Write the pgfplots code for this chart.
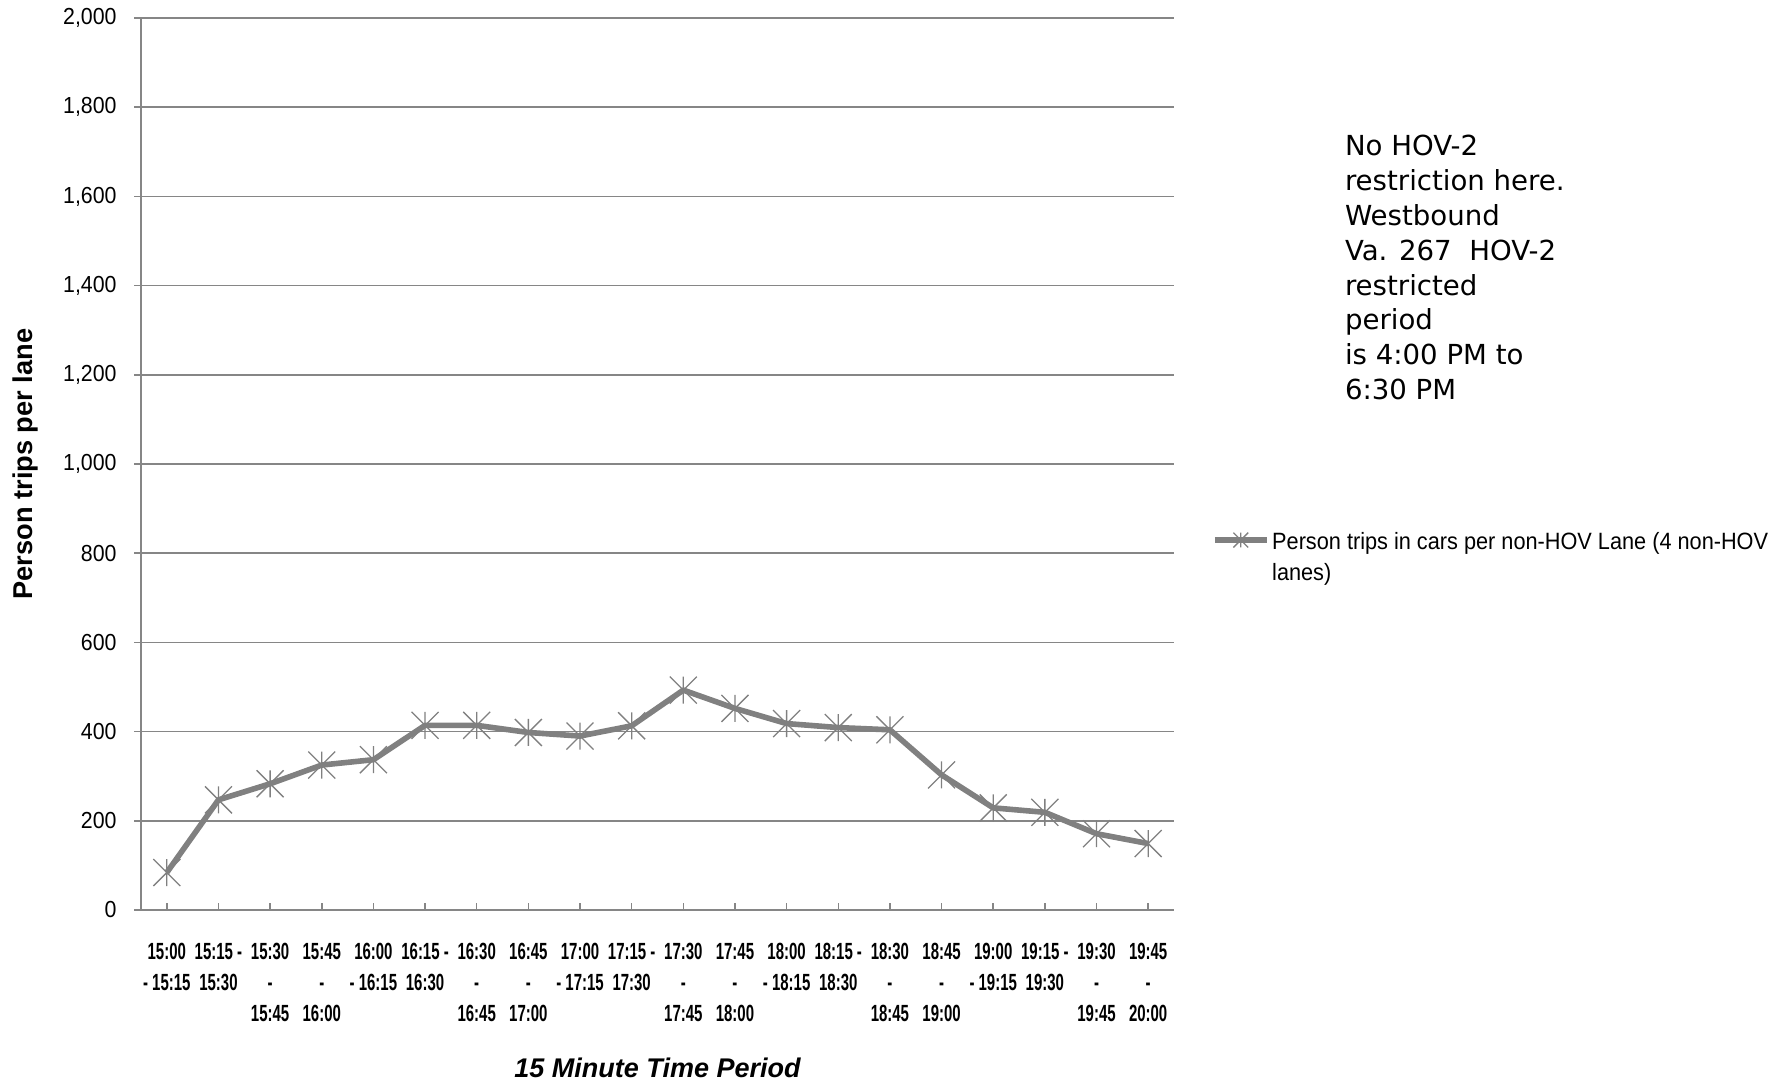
\documentclass[border=0pt]{standalone}
\usepackage{pgfplots}
\pgfplotsset{compat=1.18}
\usepackage{fontspec}
\setmainfont{Liberation Sans}
\newfontfamily\condfont[FakeStretch=0.64]{Liberation Sans Bold}
\newfontfamily\lblfont[FakeStretch=0.92]{Liberation Sans}
\newfontfamily\annfont{DejaVu Sans}
\definecolor{gridgray}{RGB}{134,134,134}
\definecolor{seriesgray}{RGB}{128,128,128}
\pgfdeclareplotmark{xast}{%
  \pgfpathmoveto{\pgfqpoint{0pt}{\pgfplotmarksize}}%
  \pgfpathlineto{\pgfqpoint{0pt}{-\pgfplotmarksize}}%
  \pgfpathmoveto{\pgfqpoint{-\pgfplotmarksize}{-\pgfplotmarksize}}%
  \pgfpathlineto{\pgfqpoint{\pgfplotmarksize}{\pgfplotmarksize}}%
  \pgfpathmoveto{\pgfqpoint{-\pgfplotmarksize}{\pgfplotmarksize}}%
  \pgfpathlineto{\pgfqpoint{\pgfplotmarksize}{-\pgfplotmarksize}}%
  \pgfusepathqstroke}
\begin{document}
\begin{tikzpicture}
\useasboundingbox (-70.5pt,-85.5pt) rectangle (822pt,455pt);
\begin{axis}[
  at={(0pt,0pt)}, anchor=south west, scale only axis,
  width=516.5pt, height=446pt,
  xmin=-0.5, xmax=19.5, ymin=0, ymax=2000,
  clip=false,
  xtick={0,...,19},
  xticklabels={{15:00\\- 15:15},{15:15 -\\15:30},{15:30\\-\\15:45},{15:45\\-\\16:00},{16:00\\- 16:15},{16:15 -\\16:30},{16:30\\-\\16:45},{16:45\\-\\17:00},{17:00\\- 17:15},{17:15 -\\17:30},{17:30\\-\\17:45},{17:45\\-\\18:00},{18:00\\- 18:15},{18:15 -\\18:30},{18:30\\-\\18:45},{18:45\\-\\19:00},{19:00\\- 19:15},{19:15 -\\19:30},{19:30\\-\\19:45},{19:45\\-\\20:00}},
  xticklabel style={font=\condfont\fontsize{11.7}{15.6}\selectfont, align=center, anchor=north, inner sep=0pt, yshift=-16.4pt},
  ytick={0,200,...,2000},
  yticklabel style={font=\lblfont\fontsize{11.6}{14}\selectfont, anchor=east, inner sep=0pt, xshift=-12pt},
  /pgf/number format/.cd, 1000 sep={,}, assume math mode=true, /pgfplots/.cd,
  ymajorgrids, grid style={gridgray, line width=0.75pt},
  axis x line*=bottom, axis y line*=left,
  axis line style={gridgray, line width=0.75pt, -},
  tick align=inside, major tick length=3.25pt,
  tick style={gridgray, line width=0.75pt},
  ytick style={xshift=-3.25pt},
  xlabel={15 Minute Time Period},
  xlabel style={font=\bfseries\itshape\fontsize{13.5}{16}\selectfont, at={(axis description cs:0.5,0)}, anchor=base, inner sep=0pt, yshift=-83.8pt},
  ylabel={Person trips per lane},
  ylabel style={font=\bfseries\fontsize{13.6}{16}\selectfont, at={(axis description cs:0,0.5)}, anchor=base, inner sep=0pt, yshift=54pt},
  legend cell align=left,
  legend style={at={(1.0364,0.395)}, anchor=west, draw=none, fill=none, inner sep=0pt, column sep=1.3pt, font=\lblfont\fontsize{11.8}{15.6}\selectfont, nodes={inner sep=0pt}},
  legend image code/.code={
    \path (0pt,-22.5pt) (26pt,4.9pt);
    \draw[mark repeat=2, mark phase=2, #1, mark size=3.7pt] plot coordinates {(0pt,0pt) (13pt,0pt) (26pt,0pt)};
  },
]
\addplot[seriesgray, line width=2.8pt, line join=round, mark=xast, mark size=6.75pt, mark options={line width=0.65pt, solid}] coordinates {
(0,84) (1,247) (2,283) (3,325) (4,337) (5,414) (6,414) (7,398) (8,390) (9,413)
(10,493) (11,452) (12,418) (13,409) (14,404) (15,303) (16,229) (17,219) (18,171) (19,149)
};
\addlegendentry{\begin{tabular}[t]{@{}l@{}}Person trips in cars per non-HOV Lane (4 non-HOV\\lanes)\end{tabular}}
\end{axis}
\node[anchor=north west, inner sep=0pt, align=left, font=\annfont\fontsize{13.8}{17.4}\selectfont] at (601.8pt,387.5pt) {No HOV-2\\restriction here.\\Westbound\\Va. 267\ \ HOV-2\\restricted\\period\\is 4:00 PM to\\6:30 PM};
\end{tikzpicture}
\end{document}
